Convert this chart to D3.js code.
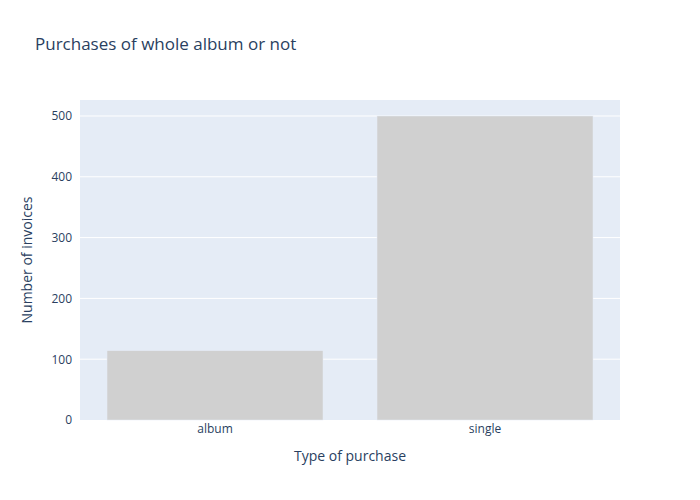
<!DOCTYPE html>
<html><head><meta charset="utf-8">
<script src="https://cdn.jsdelivr.net/npm/d3@7"></script>
<style>body{margin:0;background:#fff}text{font-family:"Open Sans",sans-serif}</style>
</head><body><svg id="c" width="700" height="500"></svg>
<script>
const categories = ["album", "single"];
const values = [114, 500];
const yTicks = [0, 100, 200, 300, 400, 500];

const svg = d3.select("#c");
const m = {l:80, r:80, t:100, b:80};
const W = 700, H = 500;
const C = "#2a3f5f";
const x = d3.scaleBand().domain(categories).range([m.l, W-m.r]).paddingInner(0.2).paddingOuter(0.1);
const y = d3.scaleLinear().domain([0, 526.3]).range([H-m.b, m.t]);

svg.append("rect").attr("x", m.l).attr("y", m.t).attr("width", W-m.l-m.r).attr("height", H-m.t-m.b).attr("fill", "#e5ecf6");
svg.append("g").selectAll("line").data(yTicks.slice(1)).join("line")
  .attr("x1", m.l).attr("x2", W-m.r).attr("y1", d=>y(d)).attr("y2", d=>y(d))
  .attr("stroke", "#fff").attr("stroke-width", 1);
svg.append("g").selectAll("rect").data(categories).join("rect")
  .attr("x", d=>x(d)).attr("width", x.bandwidth())
  .attr("y", (d,i)=>y(values[i])).attr("height", (d,i)=>y(0)-y(values[i]))
  .attr("fill", "#d0d0d0").attr("stroke", "#e5ecf6").attr("stroke-width", 0.5);

const ya = svg.append("g").attr("transform", `translate(${m.l},0)`).call(d3.axisLeft(y).tickValues(yTicks).tickSize(0).tickPadding(8));
ya.select(".domain").remove();
ya.selectAll("text").attr("font-size", 12).attr("fill", C).attr("font-family", '"Open Sans",sans-serif');
const xa = svg.append("g").attr("transform", `translate(0,${H-m.b})`).call(d3.axisBottom(x).tickSize(0).tickPadding(4));
xa.select(".domain").remove();
xa.selectAll("text").attr("font-size", 12).attr("fill", C).attr("font-family", '"Open Sans",sans-serif');

svg.append("text").attr("x", 35).attr("y", 50).attr("font-size", 17).attr("fill", C).text("Purchases of whole album or not");
svg.append("text").attr("x", (m.l+W-m.r)/2).attr("y", 461).attr("text-anchor", "middle").attr("font-size", 14).attr("fill", C).text("Type of purchase");
svg.append("text").attr("transform", `translate(32,${(m.t+H-m.b)/2}) rotate(-90)`).attr("text-anchor", "middle").attr("font-size", 14).attr("fill", C).text("Number of invoices");
</script></body></html>
